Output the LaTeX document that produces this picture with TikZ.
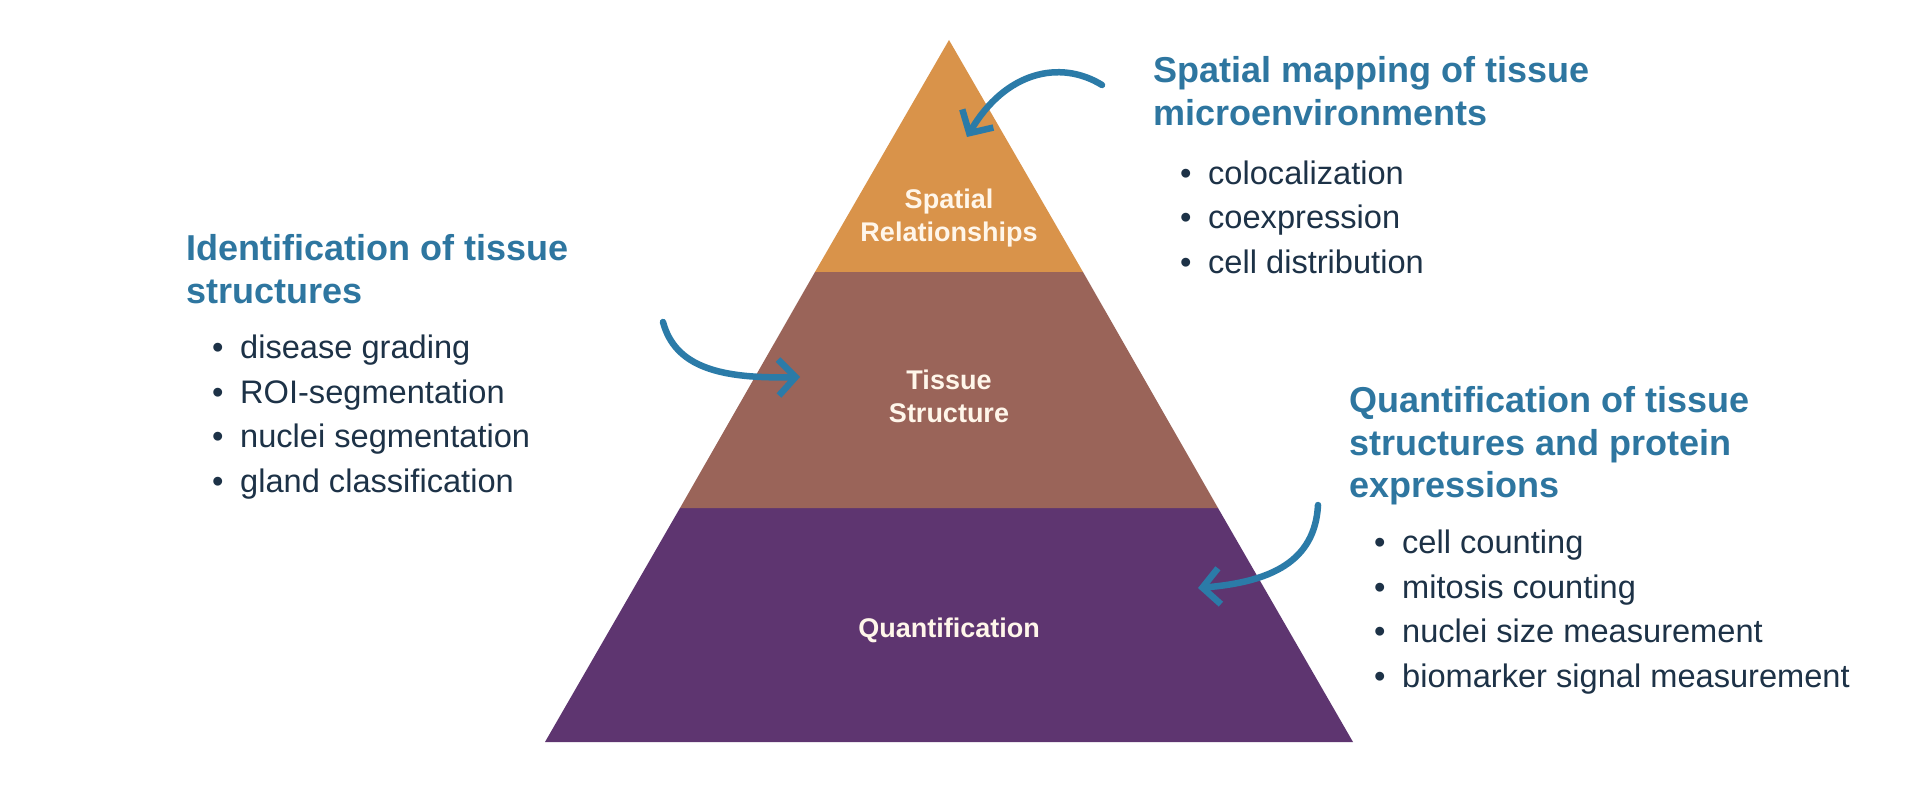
\documentclass[tikz,border=0pt]{standalone}
\usepackage{fontspec}
\setmainfont{Liberation Sans}
\usetikzlibrary{arrows.meta}

\definecolor{apexorange}{HTML}{D9934A}
\definecolor{midbrown}{HTML}{9A6459}
\definecolor{basepurple}{HTML}{5E3570}
\definecolor{headblue}{HTML}{2E76A0}
\definecolor{itemnavy}{HTML}{1D3247}
\definecolor{arrowblue}{HTML}{2B7BA8}
\definecolor{labelcream}{HTML}{FFF6EA}
\newcommand{\itembul}{\makebox[28pt][l]{\textbullet}}

\begin{document}
\begin{tikzpicture}[x=1pt, y=1pt,
    layertext/.style={font=\fontsize{27}{33}\selectfont\bfseries, text=labelcream, align=center},
    heading/.style={font=\fontsize{36}{42.5}\selectfont\bfseries, text=headblue, align=left,
      anchor=west, inner sep=0pt},
    itemlist/.style={font=\fontsize{32.6}{44.5}\selectfont, text=itemnavy, align=left,
      anchor=west, inner sep=0pt},
    arrow/.style={draw=arrowblue, line width=6.5pt, line cap=round,
      -{Straight Barb[length=17pt, width=36pt]}},
  ]
  \fill[white] (0,0) rectangle (1920,807);

  % pyramid layers
  \fill[basepurple] (680,299) -- (1218,299) -- (1353,65) -- (545,65) -- cycle;
  \fill[midbrown]   (815,535) -- (1083,535) -- (1218,299) -- (680,299) -- cycle;
  \fill[apexorange] (949,767) -- (1083,535) -- (815,535) -- cycle;

  \node[layertext] (spatial) at (949,589) {Spatial\\Relationships};
  \node[layertext] (tissue)  at (949,411) {Tissue\\Structure};
  \node[layertext] (quant)   at (949,177) {Quantification};

  % texts
  \node[heading]  (spatialhead)  at (1153,716) {Spatial mapping of tissue\\microenvironments};
  \node[itemlist] (spatialitems) at (1180,590) {\itembul colocalization\\\itembul coexpression\\\itembul cell distribution};

  \node[heading]  (tissuehead)   at (186,538) {Identification of tissue\\structures};
  \node[itemlist] (tissueitems)  at (212,390) {\itembul disease grading\\\itembul ROI-segmentation\\\itembul nuclei segmentation\\\itembul gland classification};

  \node[heading]  (quanthead)    at (1349,361) {Quantification of tissue\\structures and protein\\expressions};
  \node[itemlist] (quantitems)   at (1374,195) {\itembul cell counting\\\itembul mitosis counting\\\itembul nuclei size measurement\\\itembul biomarker signal measurement};

  % arrows
  \coordinate (spatialfrom) at (1102,722);
  \coordinate (spatialto)   at (967,670);
  \coordinate (tissuefrom)  at (663,485);
  \coordinate (tissueto)    at (800,430);
  \coordinate (quantfrom)   at (1318,302);
  \coordinate (quantto)     at (1198,219);

  \draw[arrow] (spatialfrom) .. controls (1060,748) and (1005,735) .. (spatialto);
  \draw[arrow] (tissuefrom) .. controls (675,440) and (720,428) .. (tissueto);
  \draw[arrow] (quantfrom) .. controls (1315,245) and (1270,225) .. (quantto);
\end{tikzpicture}
\end{document}
